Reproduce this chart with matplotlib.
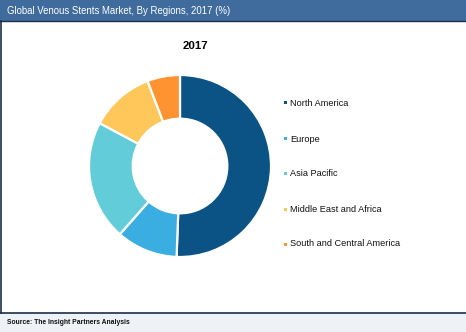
import matplotlib.pyplot as plt
from matplotlib.patches import Rectangle

regions = ['North America', 'Europe', 'Asia Pacific', 'Middle East and Africa', 'South and Central America']
shares = [50.6, 10.9, 21.3, 11.4, 5.8]
colors = ['#0B5384', '#3AAEE0', '#62CDD8', '#FFC65A', '#FF9330']

W, H = 466, 332
fig = plt.figure(figsize=(W / 100, H / 100), dpi=100)
plt.rcParams['font.family'] = ['Liberation Sans', 'DejaVu Sans']

def px(x, y, w, h):
    # pixel box (top-left origin) -> figure fraction
    return [x / W, 1 - (y + h) / H, w / W, h / H]

# header bar, footer strip and frame lines
fig.patches.append(Rectangle((0, 1 - 21 / H), 1, 21 / H, transform=fig.transFigure,
                             facecolor='#3F6C9C', edgecolor='none'))
fig.patches.append(Rectangle((0, 0), 1, 19 / H, transform=fig.transFigure,
                             facecolor='#EEF2F7', edgecolor='none'))
fig.add_artist(plt.Line2D([0, 1], [1 - 21 / H, 1 - 21 / H], color='#1B2F4A', lw=1, transform=fig.transFigure))
fig.add_artist(plt.Line2D([0, 1], [19 / H, 19 / H], color='#1B2F4A', lw=1.2, transform=fig.transFigure))
fig.add_artist(plt.Line2D([0.8 / W, 0.8 / W], [19 / H, 1 - 21 / H], color='#1B2F4A', lw=1.2, transform=fig.transFigure))

fig.text(7 / W, 1 - 11 / H, 'Global Venous Stents Market, By Regions, 2017 (%)',
         color='white', fontsize=6.9, va='center', ha='left')
fig.text(7 / W, 9.5 / H, 'Source: The Insight Partners Analysis',
         color='#111111', fontsize=4.9, fontweight='bold', va='center', ha='left')

# donut
cx, cy, r = 180, 166, 91
ax = fig.add_axes(px(cx - r, cy - r, 2 * r, 2 * r))
ax.pie(shares, colors=colors, startangle=90, counterclock=False, radius=1,
       wedgeprops=dict(width=0.48, edgecolor='white', linewidth=1.6))
ax.set_xlim(-1, 1)
ax.set_ylim(-1, 1)
ax.set_aspect('equal')
ax.axis('off')
fig.text(195 / W, 1 - 46 / H, '2017', fontsize=8.2, fontweight='bold', ha='center', va='center')

# legend
rows_y = [103, 139, 173, 209, 244]
for name, col, y in zip(regions, colors, rows_y):
    fig.patches.append(Rectangle((284 / W, 1 - (y + 1.5) / H), 3 / W, 3 / H,
                                 transform=fig.transFigure, facecolor=col, edgecolor='none'))
    fig.text(290 / W, 1 - y / H, name, fontsize=6.6, va='center', ha='left', color='#111111')

fig.savefig('out.png', dpi=100)
